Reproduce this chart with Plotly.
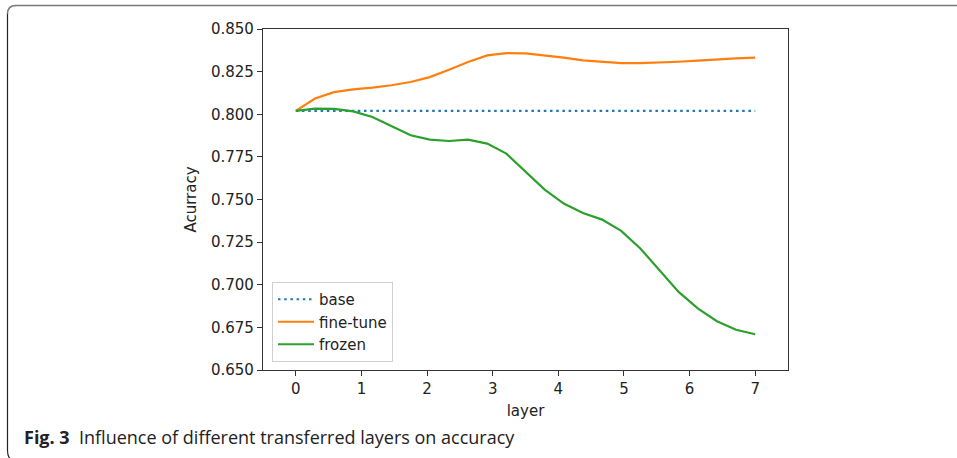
import plotly.graph_objects as go

# ---- data ----
layers = [0.0, 0.292, 0.583, 0.875, 1.167, 1.458, 1.75, 2.042, 2.333, 2.625, 2.917, 3.208,
          3.5, 3.792, 4.083, 4.375, 4.667, 4.958, 5.25, 5.542, 5.833, 6.125, 6.417, 6.708, 7.0]
base = [0.802] * 25
fine_tune = [0.802, 0.8092, 0.8130, 0.8146, 0.8156, 0.8170, 0.8189, 0.8218, 0.8261, 0.8306,
             0.8345, 0.8359, 0.8357, 0.8345, 0.8332, 0.8316, 0.8306, 0.8300, 0.8300, 0.8302,
             0.8308, 0.8314, 0.8322, 0.8328, 0.8332]
frozen = [0.802, 0.8033, 0.8031, 0.8017, 0.7984, 0.7929, 0.7877, 0.7851, 0.7843, 0.7851,
          0.7828, 0.7769, 0.7663, 0.7558, 0.7476, 0.7421, 0.7382, 0.7316, 0.7213, 0.7085,
          0.6958, 0.6861, 0.6786, 0.6736, 0.6710]
x_ticks = [0, 1, 2, 3, 4, 5, 6, 7]
y_ticks = [0.650, 0.675, 0.700, 0.725, 0.750, 0.775, 0.800, 0.825, 0.850]
caption_bold = "Fig. 3"
caption_text = "Influence of different transferred layers on accuracy"

W, H = 957, 458
L, R, T, B = 263, 788, 29, 370

def px(x):
    return (x - L) / (R - L)

def py(y):
    return (B - y) / (B - T)

fig = go.Figure()
fig.add_trace(go.Scatter(x=layers, y=base, mode="lines", name="base",
                         line=dict(color="#1f77b4", width=2.2, dash="2.5px,3.7px")))
fig.add_trace(go.Scatter(x=layers, y=fine_tune, mode="lines", name="fine-tune",
                         line=dict(color="#ff7f0e", width=2.2)))
fig.add_trace(go.Scatter(x=layers, y=frozen, mode="lines", name="frozen",
                         line=dict(color="#2ca02c", width=2.2)))

font = "DejaVu Sans"
fs = 15
fig.update_layout(
    width=W, height=H,
    margin=dict(l=L, r=W - R, t=T, b=H - B, pad=0),
    paper_bgcolor="white", plot_bgcolor="white",
    font=dict(family=font, size=fs, color="#222"),
    showlegend=True,
    legend=dict(x=px(272), y=py(362), xanchor="left", yanchor="bottom",
                bgcolor="white", bordercolor="#d0d0d0", borderwidth=1,
                font=dict(family=font, size=fs, color="#222"),
                itemwidth=36, tracegroupgap=0),
    xaxis=dict(range=[-0.5, 7.5], tickvals=x_ticks, ticktext=[str(v) for v in x_ticks],
               showline=True, linecolor="#333", linewidth=1.2, mirror=True,
               ticks="outside", ticklen=5, tickcolor="#333", tickwidth=1.2,
               showgrid=False, zeroline=False,
               title=dict(text="layer", standoff=8, font=dict(size=fs, family=font))),
    yaxis=dict(range=[0.650, 0.850], tickvals=y_ticks, tickformat=".3f",
               showline=True, linecolor="#333", linewidth=1.2, mirror=True,
               ticks="outside", ticklen=5, tickcolor="#333", tickwidth=1.2,
               showgrid=False, zeroline=False,
               title=dict(text="Acurracy", standoff=10, font=dict(size=fs, family=font))),
)

# frame of the figure panel
fig.add_shape(type="path", xref="paper", yref="paper",
              path=f"M {px(957)},{py(5.5)} L {px(16)},{py(5.5)} Q {px(7.5)},{py(5.5)} {px(7.5)},{py(14)}",
              line=dict(color="#7a7a7a", width=1.6))
fig.add_shape(type="path", xref="paper", yref="paper",
              path=f"M {px(7.5)},{py(14)} L {px(7.5)},{py(450)} Q {px(7.5)},{py(458)} {px(12)},{py(460)}",
              line=dict(color="#222", width=1.2))

fig.add_annotation(xref="paper", yref="paper", x=px(22), y=py(437),
                   xanchor="left", yanchor="middle", showarrow=False,
                   text=f"<b>{caption_bold}</b>&nbsp;&nbsp;{caption_text}",
                   font=dict(family="Open Sans", size=18, color="#222"))

fig.write_html("out.html", config={"displayModeBar": False},
               post_script="document.body.style.margin='0';document.body.style.overflow='hidden';")
